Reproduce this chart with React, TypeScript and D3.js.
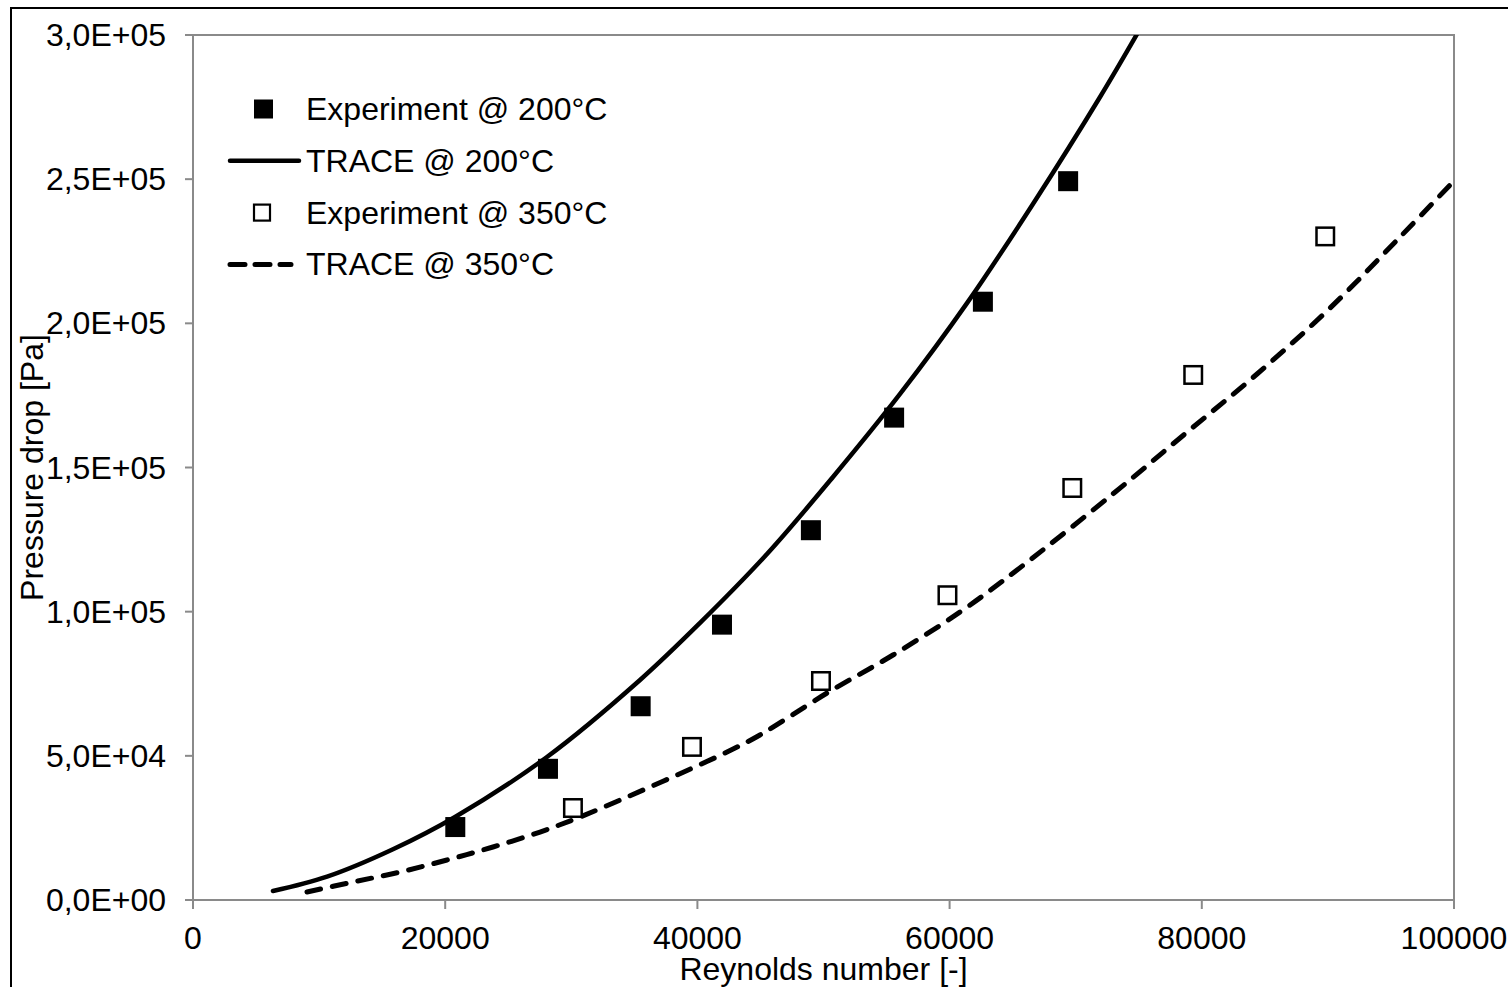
import React from "react";
import * as d3 from "d3";

// Experiment @ 200°C (filled squares)
const reExp200 = [20800, 28150, 35500, 41950, 49000, 55600, 62640, 69400];
const dpExp200 = [25300, 45500, 67200, 95500, 128250, 167300, 207500, 249300];

// Experiment @ 350°C (open squares)
const reExp350 = [30130, 39570, 49800, 59830, 69730, 79320, 89790];
const dpExp350 = [31900, 53100, 75950, 105700, 142900, 182100, 230150];

// TRACE @ 200°C (solid line)
const reTrace200 = [6340, 10630, 15860, 20780, 28070, 35450, 40210, 45520, 50750, 56070, 61380, 66610, 71930, 74860];
const dpTrace200 = [3100, 8100, 17600, 28800, 49600, 76300, 96100, 120000, 146700, 175500, 207000, 241400, 278500, 300300];

// TRACE @ 350°C (dashed line)
const reTrace350 = [9040, 12690, 16420, 20140, 23790, 27520, 30690, 34420, 38380, 42350, 44960, 50280, 55510, 60830, 65350, 73040, 78750, 84380, 90090, 95720, 100000];
const dpTrace350 = [2780, 6240, 9710, 13870, 18380, 23580, 28790, 35720, 43350, 51330, 57230, 71790, 84970, 99880, 114450, 141160, 161970, 182430, 204970, 229940, 249400];

const xTicks = [0, 20000, 40000, 60000, 80000, 100000];
const yTicks = [0, 50000, 100000, 150000, 200000, 250000, 300000];

const legendItems = [
  { label: "Experiment @ 200°C", kind: "filled" },
  { label: "TRACE @ 200°C", kind: "solid" },
  { label: "Experiment @ 350°C", kind: "open" },
  { label: "TRACE @ 350°C", kind: "dashed" },
];

const xTitle = "Reynolds number [-]";
const yTitle = "Pressure drop [Pa]";

const W = 1508;
const H = 987;
const FONT = "'Liberation Sans', Arial, Helvetica, sans-serif";
const FS = 32;

const fmtY = (v: number) =>
  v.toExponential(1).replace(".", ",").replace(/e\+(\d)$/, "E+0$1");

export default function App() {
  const left = 193, right = 1454, top = 35, bottom = 900;
  const x = d3.scaleLinear().domain([0, 100000]).range([left, right]);
  const y = d3.scaleLinear().domain([0, 300000]).range([bottom, top]);

  const line = d3
    .line<[number, number]>()
    .x((d) => x(d[0]))
    .y((d) => y(d[1]))
    .curve(d3.curveCatmullRom.alpha(0.5));

  const trace200 = reTrace200.map((r, i) => [r, dpTrace200[i]] as [number, number]);
  const trace350 = reTrace350.map((r, i) => [r, dpTrace350[i]] as [number, number]);

  const axisColor = "#8a8a8a";
  const ms = 20;

  return (
    <svg
      width={W}
      height={H}
      style={{ position: "absolute", left: 0, top: 0, background: "#fff" }}
      fontFamily={FONT}
    >
      <rect x={0} y={0} width={W} height={H} fill="#fff" />
      {/* outer chart border */}
      <rect x={11} y={8} width={1520} height={1020} fill="none" stroke="#000" strokeWidth={2} />

      <defs>
        <clipPath id="plotClip">
          <rect x={left} y={top} width={right - left} height={bottom - top} />
        </clipPath>
      </defs>

      {/* plot area frame */}
      <rect x={left} y={top} width={right - left} height={bottom - top} fill="none" stroke={axisColor} strokeWidth={2} />

      {/* y ticks */}
      {yTicks.map((t) => (
        <g key={"y" + t}>
          <line x1={left - 8} x2={left} y1={y(t)} y2={y(t)} stroke={axisColor} strokeWidth={2} />
          <text x={166} y={y(t) + 11} textAnchor="end" fontSize={FS} fill="#000">
            {fmtY(t)}
          </text>
        </g>
      ))}

      {/* x ticks */}
      {xTicks.map((t) => (
        <g key={"x" + t}>
          <line x1={x(t)} x2={x(t)} y1={bottom} y2={bottom + 9} stroke={axisColor} strokeWidth={2} />
          <text x={x(t)} y={949} textAnchor="middle" fontSize={FS} fill="#000">
            {String(t)}
          </text>
        </g>
      ))}

      {/* axis titles */}
      <text x={(left + right) / 2} y={980} textAnchor="middle" fontSize={FS} fill="#000">
        {xTitle}
      </text>
      <text
        transform={`translate(43, ${(top + bottom) / 2}) rotate(-90)`}
        textAnchor="middle"
        fontSize={FS}
        fill="#000"
      >
        {yTitle}
      </text>

      {/* curves */}
      <g clipPath="url(#plotClip)">
        <path d={line(trace200) || ""} fill="none" stroke="#000" strokeWidth={4.5} strokeLinecap="round" />
        <path
          d={line(trace350) || ""}
          fill="none"
          stroke="#000"
          strokeWidth={5}
          strokeLinecap="round"
          strokeDasharray="14 12"
        />
      </g>

      {/* markers */}
      {reExp200.map((r, i) => (
        <rect key={"f" + i} x={x(r) - ms / 2} y={y(dpExp200[i]) - ms / 2} width={ms} height={ms} fill="#000" />
      ))}
      {reExp350.map((r, i) => (
        <rect
          key={"o" + i}
          x={x(r) - (ms - 2.5) / 2}
          y={y(dpExp350[i]) - (ms - 2.5) / 2}
          width={ms - 2.5}
          height={ms - 2.5}
          fill="#fff"
          stroke="#000"
          strokeWidth={2.5}
        />
      ))}

      {/* legend */}
      {legendItems.map((it, i) => {
        const cy = 109 + i * 51.8;
        return (
          <g key={"l" + i}>
            {it.kind === "filled" && <rect x={254} y={cy - 9.5} width={19} height={19} fill="#000" />}
            {it.kind === "open" && (
              <rect x={254} y={cy - 8} width={16} height={16} fill="#fff" stroke="#000" strokeWidth={2.2} />
            )}
            {it.kind === "solid" && (
              <line x1={230} x2={299} y1={cy} y2={cy} stroke="#000" strokeWidth={4.5} strokeLinecap="round" />
            )}
            {it.kind === "dashed" && (
              <line
                x1={230}
                x2={291}
                y1={cy}
                y2={cy}
                stroke="#000"
                strokeWidth={5}
                strokeLinecap="round"
                strokeDasharray="15 10"
              />
            )}
            <text x={306} y={cy + 11} fontSize={FS} fill="#000">
              {it.label}
            </text>
          </g>
        );
      })}
    </svg>
  );
}
